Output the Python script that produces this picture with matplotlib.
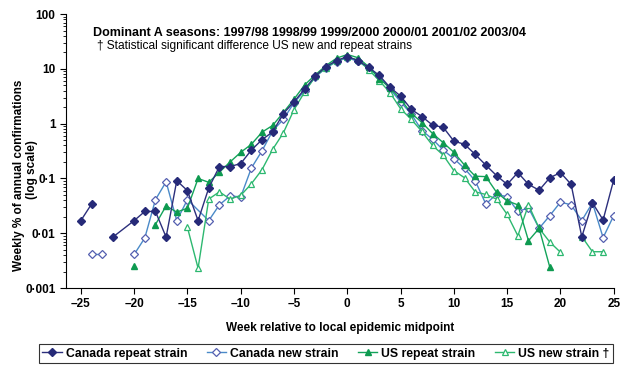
import numpy as np
import matplotlib
matplotlib.use("Agg")
import matplotlib.pyplot as plt
from matplotlib.ticker import FixedLocator, LogLocator, NullFormatter

nan = np.nan

plt.rcParams["font.family"] = ["Liberation Sans", "DejaVu Sans"]
plt.rcParams["font.weight"] = "bold"

# each series keeps its own weeks: a missing week is skipped (line joins),
# a nan value breaks the line
ca_rep_weeks = [-25, -24, -23, -22, -20, -19, -18, -17, -16, -15, -14, -13,
                -12, -11, -10, -9, -8, -7, -6, -5, -4, -3, -2, -1, 0,
                1, 2, 3, 4, 5, 6, 7, 8, 9, 10, 11, 12, 13, 14, 15, 16,
                17, 18, 19, 20, 21, 22, 23, 24, 25]
ca_rep = [0.017, 0.034, nan, 0.0085, 0.017, 0.025, 0.025, 0.0085, 0.091,
          0.060, 0.017, 0.067, 0.165, 0.165, 0.187, 0.33, 0.51, 0.71, 1.53,
          2.5, 4.3, 7.4, 11.0, 14.2, 16.8, 14.2, 10.7, 7.6, 4.6, 3.2, 1.83,
          1.35, 0.94, 0.86, 0.48, 0.42, 0.275, 0.175, 0.113, 0.078, 0.128,
          0.078, 0.061, 0.103, 0.128, 0.078, 0.0086, 0.036, 0.0175, 0.095]

ca_new_weeks = [-24, -23, -22, -20, -19, -18, -17, -16, -15, -13, -12, -11,
                -10, -9, -8, -7, -6, -5, -4, -3, -2, -1, 0, 1, 2, 3, 4, 5,
                6, 7, 8, 9, 10, 11, 12, 13, 14, 15, 16, 17, 18, 19, 20, 21,
                22, 23, 24, 25]
ca_new = [0.0041, 0.0041, nan, 0.0041, 0.0082, 0.041, 0.087, 0.017, 0.041,
          0.017, 0.033, 0.048, 0.046, 0.155, 0.32, 0.74, 1.2, 2.4, 4.0, 7.1,
          10.4, 13.6, 16.0, 13.7, 10.3, 7.3, 4.3, 2.5, 1.5, 0.75, 0.52, 0.33,
          0.23, 0.152, 0.091, 0.034, 0.052, 0.046, 0.025, 0.029, 0.0123,
          0.021, 0.037, 0.033, 0.017, 0.036, 0.0083, 0.021]

us_rep_weeks = [-20, -19, -18, -17, -16, -15, -14, -13, -12, -11, -10, -9,
                -8, -7, -6, -5, -4, -3, -2, -1, 0, 1, 2, 3, 4, 5, 6, 7, 8,
                9, 10, 11, 12, 13, 14, 15, 16, 17, 18, 19]
us_rep = [0.0025, nan, 0.0144, 0.0316, 0.0243, 0.0287, 0.1, 0.085, 0.13,
          0.2, 0.30, 0.42, 0.70, 0.93, 1.6, 2.8, 5.1, 7.8, 11.5, 15.7, 18.3,
          16.0, 11.0, 6.6, 4.5, 2.8, 1.55, 1.05, 0.66, 0.45, 0.30, 0.175,
          0.11, 0.108, 0.056, 0.039, 0.033, 0.0073, 0.0123, 0.0024]

us_new_weeks = [-15, -14, -13, -12, -11, -10, -9, -8, -7, -6, -5, -4, -3,
                -2, -1, 0, 1, 2, 3, 4, 5, 6, 7, 8, 9, 10, 11, 12, 13, 14,
                15, 16, 17, 18, 19, 20, 21, 22, 23, 24]
us_new = [0.0128, 0.0023, 0.042, 0.057, 0.042, 0.049, 0.08, 0.145, 0.34,
          0.68, 1.8, 3.8, 7.3, 10.5, 14.0, 16.5, 14.6, 9.7, 6.1, 3.7, 1.87,
          1.2, 0.72, 0.40, 0.266, 0.139, 0.103, 0.057, 0.051, 0.042, 0.022,
          0.009, 0.033, 0.0123, 0.0069, 0.0045, nan, 0.0087, 0.0046, 0.0046]

x_ticks = [-25, -20, -15, -10, -5, 0, 5, 10, 15, 20, 25]
y_ticks = [0.001, 0.01, 0.1, 1, 10, 100]
y_labels = ["0\u00b7001", "0\u00b701", "0\u00b71", "1", "10", "100"]

fig = plt.figure(figsize=(6.4, 3.81), dpi=100)
ax = fig.add_axes([0.103, 0.244, 0.856, 0.719])

ax.plot(ca_new_weeks, ca_new, color="#4a8ac8", lw=1, marker="D", ms=3.6,
        mfc="white", mec="#5560b0", mew=0.9, label="Canada new strain",
        zorder=2)
ax.plot(us_new_weeks, us_new, color="#2db870", lw=1, marker="^", ms=4.2,
        mfc="white", mec="#2db870", mew=0.9, label="US new strain \u2020",
        zorder=3)
ax.plot(us_rep_weeks, us_rep, color="#13a35a", lw=1, marker="^", ms=4.2,
        mfc="#0e9a50", mec="#0e9a50", label="US repeat strain", zorder=4)
ax.plot(ca_rep_weeks, ca_rep, color="#2c2f7c", lw=1, marker="D", ms=3.6,
        mfc="#262a78", mec="#262a78", label="Canada repeat strain",
        zorder=5)

ax.set_yscale("log")
ax.set_ylim(0.001, 100)
ax.set_xlim(-26.4, 25)
ax.xaxis.set_major_locator(FixedLocator(x_ticks))
ax.set_xticklabels([str(t).replace("-", "\u2013") for t in x_ticks])
ax.yaxis.set_major_locator(FixedLocator(y_ticks))
ax.set_yticklabels(y_labels)
ax.yaxis.set_minor_locator(LogLocator(base=10, subs=np.arange(2, 10)))
ax.yaxis.set_minor_formatter(NullFormatter())

for side in ["top", "right"]:
    ax.spines[side].set_visible(False)
ax.tick_params(axis="both", labelsize=8.5, length=4, width=0.8,
               direction="out")
ax.tick_params(axis="y", which="minor", length=2.5, width=0.6)

ax.set_xlabel("Week relative to local epidemic midpoint", fontsize=8.5,
              fontweight="bold", labelpad=8)

# y label as two stacked rotated lines
fig.text(0.030, 0.54, "Weekly % of annual confirmations", rotation=90,
         fontsize=8.5, fontweight="bold", ha="center", va="center")
fig.text(0.050, 0.555, "(log scale)", rotation=90,
         fontsize=8.5, fontweight="bold", ha="center", va="center")

fig.text(0.145, 0.913,
         "Dominant A seasons: 1997/98 1998/99 1999/2000 2000/01 2001/02 2003/04",
         fontsize=9, fontweight="bold", va="center")
fig.text(0.152, 0.878,
         "\u2020 Statistical significant difference US new and repeat strains",
         fontsize=8.6, fontweight="normal", va="center")

h, l = ax.get_legend_handles_labels()
order = [3, 0, 2, 1]
leg = fig.legend([h[i] for i in order], [l[i] for i in order],
                 loc="center", bbox_to_anchor=(0.509, 0.072), ncol=4,
                 fontsize=8.8, frameon=True, fancybox=False,
                 edgecolor="black", handlelength=1.6, handletextpad=0.3,
                 columnspacing=1.6, borderpad=0.3)
leg.get_frame().set_linewidth(0.8)

fig.savefig("out.png", dpi=100)
